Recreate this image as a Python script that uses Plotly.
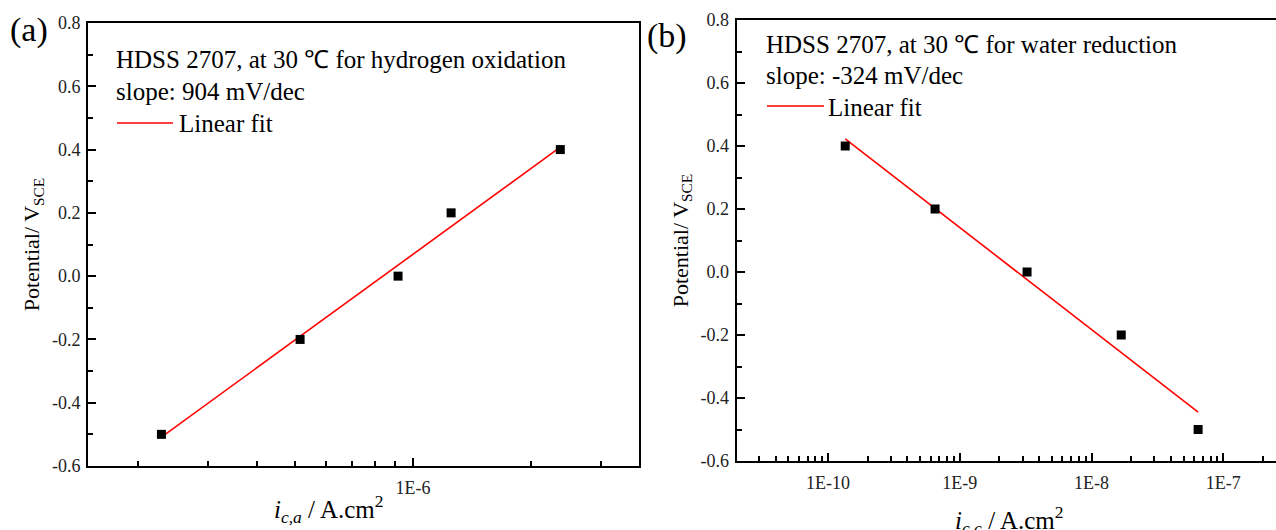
import numpy as np
import plotly.graph_objects as go

# ---------------- data ----------------
# (a) hydrogen oxidation
I_A = [2.29e-7, 5.16e-7, 9.16e-7, 1.25e-6, 2.37e-6]
E_A = [-0.5, -0.2, 0.0, 0.2, 0.4]
# (b) water reduction
I_B = [1.35e-10, 6.49e-10, 3.24e-9, 1.68e-8, 6.44e-8]
E_B = [0.4, 0.2, 0.0, -0.2, -0.5]

Y_TICKS = [-0.6, -0.4, -0.2, 0.0, 0.2, 0.4, 0.6, 0.8]
Y_TICK_TEXT = ["-0.6", "-0.4", "-0.2", "0.0", "0.2", "0.4", "0.6", "0.8"]
Y_MINOR = [-0.5, -0.3, -0.1, 0.1, 0.3, 0.5, 0.7]
XA_TICKS = [1e-6]
XA_TICK_TEXT = ["1E-6"]
XB_TICKS = [1e-10, 1e-9, 1e-8, 1e-7]
XB_TICK_TEXT = ["1E-10", "1E-9", "1E-8", "1E-7"]

TITLE_A = ["HDSS 2707, at 30 \u2103 for hydrogen oxidation", "slope: 904 mV/dec"]
TITLE_B = ["HDSS 2707, at 30 \u2103 for water reduction", "slope: -324 mV/dec"]
FIT_LABEL = "Linear fit"


def linfit(x, y):
    lx = np.log10(np.array(x))
    k, b = np.polyfit(lx, np.array(y), 1)
    xe = np.array([min(x), max(x)])
    return xe, k * np.log10(xe) + b


FA_X, FA_Y = linfit(I_A, E_A)
FB_X, FB_Y = linfit(I_B, E_B)

# ---------------- layout helpers ----------------
W, H = 1276, 530
def px(x):
    return x / W
def py(y):
    return 1 - y / H

FONT = "Liberation Serif"
BLACK = "black"
RED = "#ff0000"

fig = go.Figure()
fig.add_trace(go.Scatter(x=list(FA_X), y=list(FA_Y), mode="lines",
                         line=dict(color=RED, width=1.6), xaxis="x", yaxis="y",
                         name=FIT_LABEL, showlegend=False))
fig.add_trace(go.Scatter(x=I_A, y=E_A, mode="markers",
                         marker=dict(symbol="square", size=9, color=BLACK),
                         xaxis="x", yaxis="y", showlegend=False))
fig.add_trace(go.Scatter(x=list(FB_X), y=list(FB_Y), mode="lines",
                         line=dict(color=RED, width=1.6), xaxis="x2", yaxis="y2",
                         name=FIT_LABEL, showlegend=False))
fig.add_trace(go.Scatter(x=I_B, y=E_B, mode="markers",
                         marker=dict(symbol="square", size=9, color=BLACK),
                         xaxis="x2", yaxis="y2", showlegend=False))

tickfont = dict(family=FONT, size=18, color="#222222")
common_axis = dict(showline=True, linecolor=BLACK, linewidth=2, automargin=False,
                   ticks="inside", ticklen=8, tickwidth=2, tickcolor=BLACK,
                   showgrid=False, zeroline=False, tickfont=tickfont)

def minor(vals):
    return dict(tickvals=vals, ticks="inside", ticklen=5, tickwidth=1.5,
                tickcolor=BLACK, showgrid=False)

XA_MINOR = [k * 1e-7 for k in range(2, 10)] + [2e-6, 3e-6]
XB_MINOR = [k * 10.0 ** e for e in range(-11, -6) for k in range(2, 10)]

ytitle = dict(text="Potential/ V<sub>SCE</sub>", font=dict(family=FONT, size=22, color=BLACK),
              standoff=6)

fig.update_layout(
    template="none",
    font=dict(family=FONT, color=BLACK),
    width=W, height=H,
    margin=dict(l=0, r=0, t=0, b=0, autoexpand=False),
    paper_bgcolor="white", plot_bgcolor="white",
    showlegend=False,
    xaxis=dict(domain=[px(88), px(639)], type="log", range=[-6.827, -5.425],
               anchor="y", mirror=True, tickmode="array", tickvals=XA_TICKS,
               ticktext=XA_TICK_TEXT, minor=minor(XA_MINOR), ticklabelstandoff=4,
               **common_axis),
    yaxis=dict(domain=[py(466), py(23)], range=[-0.6, 0.8], anchor="x", mirror=True,
               tickmode="array", tickvals=Y_TICKS, ticktext=Y_TICK_TEXT,
               minor=minor(Y_MINOR), title=ytitle, ticklabelstandoff=2, **common_axis),
    xaxis2=dict(domain=[px(736.5), 1.0], type="log", range=[-10.695, -6.6],
                anchor="y2", mirror=True, tickmode="array", tickvals=XB_TICKS,
                ticktext=XB_TICK_TEXT, minor=minor(XB_MINOR), ticklabelstandoff=4,
                **common_axis),
    yaxis2=dict(domain=[py(461), py(20)], range=[-0.6, 0.8], anchor="x2", mirror=False,
                tickmode="array", tickvals=Y_TICKS, ticktext=Y_TICK_TEXT,
                minor=minor(Y_MINOR), title=ytitle, ticklabelstandoff=2, **common_axis),
)

ann = []
def text(x, y, s, size=25, xanchor="left", **kw):
    ann.append(dict(x=px(x), y=py(y), xref="paper", yref="paper", text=s,
                    showarrow=False, xanchor=xanchor, yanchor="middle",
                    font=dict(family=FONT, size=size, color=BLACK), **kw))

# panel labels
text(8, 30, "(a)", size=34)
text(645, 36, "(b)", size=34)
# inset text panel a
text(114, 60, TITLE_A[0])
text(114, 92, TITLE_A[1])
text(177, 124, FIT_LABEL)
# inset text panel b
text(764, 45, TITLE_B[0])
text(764, 76, TITLE_B[1])
text(826, 107, FIT_LABEL)
# x titles
text(329, 509, "<i>i</i><sub><i>c,a</i></sub> / A.cm<sup>2</sup>", size=25, xanchor="center")
text(1009, 520, "<i>i</i><sub><i>c,c</i></sub> / A.cm<sup>2</sup>", size=25, xanchor="center")
fig.update_layout(annotations=ann)

# legend line samples
fig.add_shape(type="line", xref="paper", yref="paper", x0=px(117), x1=px(173),
              y0=py(123), y1=py(123), line=dict(color=RED, width=1.6))
fig.add_shape(type="line", xref="paper", yref="paper", x0=px(767), x1=px(824),
              y0=py(106), y1=py(106), line=dict(color=RED, width=1.6))

fig.write_html("out.html")
